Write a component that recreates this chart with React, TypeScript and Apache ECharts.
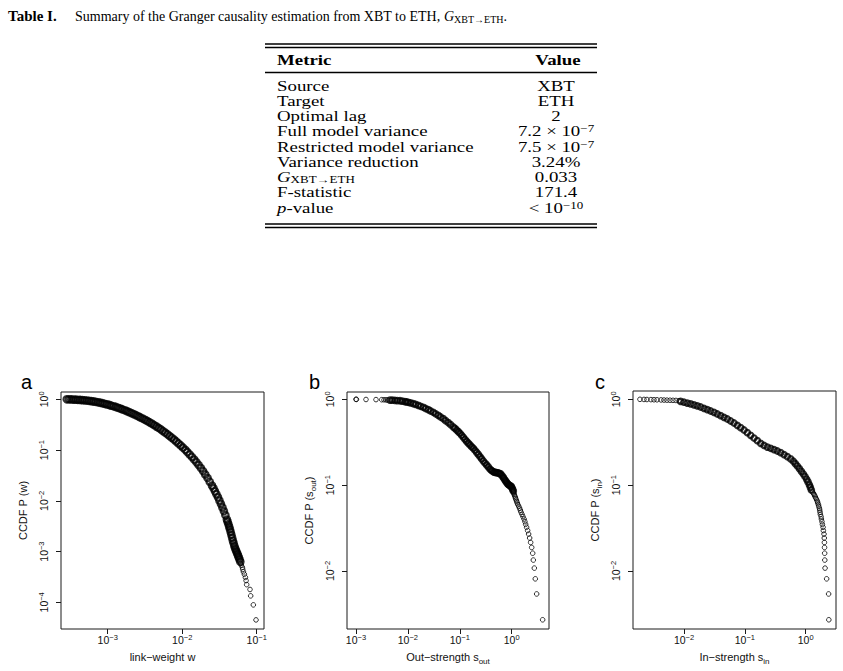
import React, { useEffect, useRef } from "react";
import * as echarts from "echarts";

const SANS = '"Liberation Sans", Arial, Helvetica, sans-serif';
const SERIF = '"Liberation Serif", "Times New Roman", Times, serif';

// ---------- Table I ----------
const captionLead = "Table I.";
const captionText =
  "Summary of the Granger causality estimation from XBT to ETH, {gi|G}{gs|XBT→ETH}.";
const tableHeaders = ["Metric", "Value"];
const metricNames = [
  "Source",
  "Target",
  "Optimal lag",
  "Full model variance",
  "Restricted model variance",
  "Variance reduction",
  "{gi|G}{gs|XBT→ETH}",
  "F-statistic",
  "{it|p}-value",
];
const metricValues = [
  "XBT",
  "ETH",
  "2",
  "7.2 × 10{vs|−7}",
  "7.5 × 10{vs|−7}",
  "3.24%",
  "0.033",
  "171.4",
  "< 10{vs|−10}",
];

// ---------- Panel a: link weights (dense body, then sparse tail) ----------
const linkWeightBody = [
  2.82e-4, 3.02e-4, 3.24e-4, 3.47e-4, 3.72e-4, 3.98e-4, 4.27e-4, 4.57e-4, 4.9e-4, 5.25e-4,
  5.62e-4, 6.03e-4, 6.46e-4, 6.92e-4, 7.41e-4, 7.94e-4, 8.51e-4, 9.12e-4, 9.77e-4, 1.05e-3,
  1.12e-3, 1.2e-3, 1.29e-3, 1.38e-3, 1.48e-3, 1.58e-3, 1.7e-3, 1.82e-3, 1.95e-3, 2.09e-3,
  2.24e-3, 2.4e-3, 2.57e-3, 2.75e-3, 2.95e-3, 3.16e-3, 3.39e-3, 3.63e-3, 3.89e-3, 4.17e-3,
  4.47e-3, 4.79e-3, 5.13e-3, 5.5e-3, 5.89e-3, 6.31e-3, 6.76e-3, 7.24e-3, 7.76e-3, 8.32e-3,
  8.91e-3, 9.55e-3, 1.02e-2, 1.1e-2, 1.17e-2, 1.26e-2, 1.35e-2, 1.45e-2, 1.55e-2, 1.66e-2,
  1.78e-2, 1.91e-2, 2.04e-2, 2.19e-2, 2.34e-2, 2.51e-2, 2.63e-2, 2.75e-2, 2.88e-2, 3.02e-2,
  3.16e-2, 3.31e-2, 3.47e-2, 3.63e-2, 3.8e-2, 3.98e-2, 4.07e-2, 4.17e-2, 4.27e-2, 4.37e-2,
  4.47e-2, 4.57e-2, 4.68e-2, 4.79e-2, 4.9e-2, 5.01e-2, 5.13e-2, 5.25e-2, 5.37e-2, 5.5e-2,
  5.62e-2, 5.75e-2, 5.89e-2, 6.03e-2,
];
const linkWeightBodyCcdf = [
  1.0, 0.998, 0.993, 0.989, 0.984, 0.979, 0.973, 0.964, 0.955, 0.944,
  0.933, 0.92, 0.906, 0.891, 0.873, 0.855, 0.836, 0.815, 0.794, 0.773,
  0.75, 0.728, 0.705, 0.681, 0.656, 0.631, 0.607, 0.582, 0.557, 0.533,
  0.509, 0.485, 0.462, 0.44, 0.417, 0.395, 0.374, 0.353, 0.333, 0.313,
  0.293, 0.274, 0.256, 0.238, 0.221, 0.205, 0.19, 0.175, 0.161, 0.148,
  0.135, 0.123, 0.112, 0.101, 0.0912, 0.0818, 0.0731, 0.065, 0.0575, 0.0506,
  0.0442, 0.0383, 0.033, 0.0281, 0.0238, 0.02, 0.0176, 0.0154, 0.0135, 0.0117,
  0.0101, 0.00867, 0.00738, 0.00622, 0.00519, 0.00427, 0.00385, 0.00345, 0.00308, 0.00274,
  0.00243, 0.00214, 0.00187, 0.00164, 0.00145, 0.00129, 0.00116, 0.00106, 0.000977, 0.000902,
  0.000832, 0.000767, 0.0007, 0.000631,
];
const linkWeightTail = [
  0.061, 0.0622, 0.0642, 0.0649, 0.0663, 0.0683, 0.0705, 0.072, 0.0734, 0.0813, 0.083, 0.0901, 0.0979,
];
const linkWeightTailCcdf = [
  5.8e-4, 5.36e-4, 4.9e-4, 4.46e-4, 4.0e-4, 3.57e-4, 3.1e-4, 2.68e-4, 2.23e-4, 1.79e-4, 1.34e-4, 8.9e-5, 4.5e-5,
];

// ---------- Panel b: out-strength (sparse head, dense body, sparse tail) ----------
const outStrengthHead = [0.001, 0.00102, 0.00156, 0.00243, 0.00313, 0.00347, 0.0038, 0.00408];
const outStrengthHeadCcdf = [1.0, 0.997, 0.995, 0.992, 0.989, 0.987, 0.984, 0.982];
const outStrengthBody = [
  0.00452, 0.00501, 0.00564, 0.00625, 0.00705, 0.00781, 0.00879, 0.00946, 0.01019, 0.0113,
  0.01273, 0.01413, 0.0159, 0.01762, 0.01983, 0.02198, 0.02477, 0.02746, 0.03093, 0.03428,
  0.03859, 0.04278, 0.04815, 0.0534, 0.06013, 0.06668, 0.07502, 0.08085, 0.0871, 0.09378,
  0.101, 0.1087, 0.117, 0.126, 0.1356, 0.146, 0.1572, 0.1693, 0.1823, 0.1963,
  0.2113, 0.2275, 0.245, 0.2637, 0.2839, 0.3058, 0.3293, 0.3545, 0.3818, 0.4051,
  0.4299, 0.4561, 0.484, 0.5135, 0.5449, 0.5782, 0.6135, 0.651, 0.6907, 0.7218,
  0.7543, 0.7882, 0.8237, 0.8607, 0.8995, 0.94, 0.9823, 1.013, 1.044, 1.075,
];
const outStrengthBodyCcdf = [
  0.979, 0.976, 0.972, 0.967, 0.962, 0.952, 0.939, 0.931, 0.923, 0.907,
  0.89, 0.871, 0.851, 0.829, 0.807, 0.781, 0.758, 0.731, 0.706, 0.678,
  0.651, 0.622, 0.595, 0.564, 0.535, 0.507, 0.476, 0.458, 0.439, 0.42,
  0.402, 0.381, 0.361, 0.342, 0.324, 0.308, 0.294, 0.28, 0.269, 0.255,
  0.241, 0.228, 0.215, 0.203, 0.191, 0.181, 0.172, 0.163, 0.154, 0.149,
  0.145, 0.142, 0.141, 0.14, 0.139, 0.137, 0.135, 0.129, 0.123, 0.118,
  0.113, 0.109, 0.105, 0.102, 0.0996, 0.0982, 0.0969, 0.0933, 0.0894, 0.0855,
];
const outStrengthTail = [
  1.08, 1.09, 1.12, 1.14, 1.17, 1.19, 1.22, 1.25, 1.28, 1.32, 1.37, 1.42, 1.47, 1.51, 1.58,
  1.65, 1.73, 1.8, 1.86, 1.94, 2.03, 2.12, 2.22, 2.32, 2.43, 2.54, 2.61, 2.73, 2.85, 3.03, 3.95,
];
const outStrengthTailCcdf = [
  0.0833, 0.0806, 0.078, 0.0753, 0.0726, 0.0699, 0.0672, 0.0645, 0.0618, 0.0591, 0.0565, 0.0538, 0.0511, 0.0484, 0.0457,
  0.043, 0.0403, 0.0376, 0.0349, 0.0323, 0.0296, 0.0269, 0.0242, 0.0215, 0.0188, 0.0161, 0.0134, 0.0108, 0.0081, 0.0054, 0.0027,
];

// ---------- Panel c: in-strength (sparse head, dense body, sparse tail) ----------
const inStrengthHead = [
  0.00189, 0.0022, 0.00246, 0.00286, 0.00321, 0.0036, 0.00419, 0.00469, 0.00525, 0.00589,
  0.00659, 0.00738, 0.00828,
];
const inStrengthHeadCcdf = [
  1.0, 0.997, 0.995, 0.992, 0.989, 0.987, 0.984, 0.981, 0.978, 0.976, 0.973, 0.97, 0.962,
];
const inStrengthBody = [
  0.00881, 0.01, 0.01134, 0.01287, 0.0146, 0.01656, 0.01879, 0.02132, 0.02418, 0.02744,
  0.03113, 0.03531, 0.04006, 0.04545, 0.05157, 0.0585, 0.06637, 0.0753, 0.08543, 0.0969,
  0.1099, 0.1247, 0.1415, 0.1605, 0.1821, 0.2066, 0.2344, 0.2659, 0.3017, 0.3421,
  0.3882, 0.4404, 0.4996, 0.5668, 0.6269, 0.6761, 0.7295, 0.7869, 0.8489, 0.9155,
  0.975, 1.038, 1.092, 1.149, 1.193, 1.239,
];
const inStrengthBodyCcdf = [
  0.945, 0.925, 0.905, 0.885, 0.862, 0.838, 0.814, 0.785, 0.758, 0.731,
  0.706, 0.675, 0.645, 0.617, 0.59, 0.559, 0.53, 0.498, 0.468, 0.439,
  0.409, 0.381, 0.354, 0.33, 0.307, 0.291, 0.278, 0.269, 0.259, 0.25,
  0.239, 0.227, 0.215, 0.202, 0.19, 0.178, 0.167, 0.156, 0.145, 0.135,
  0.126, 0.117, 0.109, 0.101, 0.0944, 0.0879,
];
const inStrengthTail = [
  1.29, 1.34, 1.37, 1.41, 1.44, 1.48, 1.52, 1.56, 1.58, 1.62, 1.64, 1.68,
  1.7, 1.72, 1.74, 1.79, 1.81, 1.85, 1.88, 1.93, 1.95, 2.0, 2.02, 2.03, 2.04, 2.05, 2.06, 2.08, 2.21, 2.38, 2.4,
];
const inStrengthTailCcdf = [
  0.0833, 0.0806, 0.078, 0.0753, 0.0726, 0.0699, 0.0672, 0.0645, 0.0618, 0.0591, 0.0565, 0.0538,
  0.0511, 0.0484, 0.0457, 0.043, 0.0403, 0.0376, 0.0349, 0.0323, 0.0296, 0.0269, 0.0242, 0.0215, 0.0188, 0.0161, 0.0134, 0.0108, 0.0081, 0.0054, 0.0027,
];

// Decade exponents marked on each log axis
const linkWeightXTicks = [-3, -2, -1];
const linkWeightYTicks = [0, -1, -2, -3, -4];
const outStrengthXTicks = [-3, -2, -1, 0];
const inStrengthXTicks = [-2, -1, 0];
const strengthYTicks = [0, -1, -2];

const panelLetters = ["a", "b", "c"];

type Segment = { xs: number[]; ys: number[]; dense: boolean };
type Panel = {
  segments: Segment[];
  xTicks: number[];
  yTicks: number[];
  xRange: [number, number];
  yRange: [number, number];
  box: { left: number; top: number; width: number; height: number };
  xName: string;
  yName: string;
  letterX: number;
  denseSize: number;
};

const panels: Panel[] = [
  {
    segments: [
      { xs: linkWeightBody, ys: linkWeightBodyCcdf, dense: true },
      { xs: linkWeightTail, ys: linkWeightTailCcdf, dense: false },
    ],
    xTicks: linkWeightXTicks,
    yTicks: linkWeightYTicks,
    xRange: [-3.627, -0.902],
    yRange: [-4.526, 0.144],
    box: { left: 61, top: 392, width: 203, height: 237 },
    xName: "{n|link−weight w}",
    yName: "{n|CCDF P (w)}",
    letterX: 21,
    denseSize: 6.5,
  },
  {
    segments: [
      { xs: outStrengthHead, ys: outStrengthHeadCcdf, dense: false },
      { xs: outStrengthBody, ys: outStrengthBodyCcdf, dense: true },
      { xs: outStrengthTail, ys: outStrengthTailCcdf, dense: false },
    ],
    xTicks: outStrengthXTicks,
    yTicks: strengthYTicks,
    xRange: [-3.173, 0.719],
    yRange: [-2.676, 0.085],
    box: { left: 347, top: 392, width: 202, height: 237 },
    xName: "{n|Out−strength s}{sb|out}",
    yName: "{n|CCDF P (s}{sb|out}{n|)}",
    letterX: 309,
    denseSize: 5.5,
  },
  {
    segments: [
      { xs: inStrengthHead, ys: inStrengthHeadCcdf, dense: false },
      { xs: inStrengthBody, ys: inStrengthBodyCcdf, dense: true },
      { xs: inStrengthTail, ys: inStrengthTailCcdf, dense: false },
    ],
    xTicks: inStrengthXTicks,
    yTicks: strengthYTicks,
    xRange: [-2.838, 0.498],
    yRange: [-2.676, 0.097],
    box: { left: 633, top: 391, width: 203, height: 238 },
    xName: "{n|In−strength s}{sb|in}",
    yName: "{n|CCDF P (s}{sb|in}{n|)}",
    letterX: 595,
    denseSize: 5.5,
  },
];

const INK = "#111";

const decadeLabel = (exp: number) =>
  `{b|10}{s|${exp === 0 ? "0" : "−" + Math.abs(Math.round(exp))}}`;

const tickRich = {
  b: { fontSize: 10.5, lineHeight: 14, fontFamily: SANS, color: INK },
  s: { fontSize: 7.5, lineHeight: 8, verticalAlign: "top", fontFamily: SANS, color: INK },
};

const nameRich = {
  n: { fontSize: 11, lineHeight: 16, fontFamily: SANS, color: INK },
  sb: { fontSize: 8, lineHeight: 9, verticalAlign: "bottom", fontFamily: SANS, color: INK },
};

// Table type: tight rows, wide-set face
const TABLE_FONT = 14.5;
const TABLE_STRETCH = 1.3;
const ROW_LINE = 15;
const tableRich = {
  gi: { fontStyle: "italic", fontSize: TABLE_FONT, lineHeight: ROW_LINE, fontFamily: SERIF, color: "#000" },
  gs: { fontSize: 10, lineHeight: 8, verticalAlign: "bottom", fontFamily: SERIF, color: "#000" },
  it: { fontStyle: "italic", fontSize: TABLE_FONT, lineHeight: ROW_LINE, fontFamily: SERIF, color: "#000" },
  vs: { fontSize: 10, lineHeight: 8, verticalAlign: "top", fontFamily: SERIF, color: "#000" },
};

const CAPTION_FONT = 14;
const captionRich = {
  gi: { fontStyle: "italic", fontSize: CAPTION_FONT, lineHeight: 17, fontFamily: SERIF, color: "#000" },
  gs: { fontSize: 10, lineHeight: 9, verticalAlign: "bottom", fontFamily: SERIF, color: "#000" },
};

function textEl(
  x: number,
  y: number,
  text: string,
  opts: {
    size: number;
    weight?: string;
    align?: string;
    family?: string;
    rich?: any;
    lineHeight?: number;
    stretch?: number;
  }
) {
  const align = opts.align || "left";
  return {
    type: "text",
    x,
    y,
    scaleX: opts.stretch || 1,
    silent: true,
    style: {
      text,
      fill: "#000",
      fontSize: opts.size,
      fontFamily: opts.family || SERIF,
      fontWeight: opts.weight || "normal",
      lineHeight: opts.lineHeight || Math.round(opts.size * 1.2),
      align,
      textAlign: align,
      verticalAlign: "middle",
      textVerticalAlign: "middle",
      rich: opts.rich,
    },
  };
}

const RULE_LEFT = 265;
const RULE_RIGHT = 597;

function ruleEl(y: number, width: number) {
  return {
    type: "line",
    silent: true,
    shape: { x1: RULE_LEFT, y1: y, x2: RULE_RIGHT, y2: y },
    style: { stroke: "#000", lineWidth: width },
  };
}

function buildOption() {
  const rowTop = 86;
  const rowStep = 15.25;
  const metricX = 277;
  const valueX = 556;
  const cell = { size: TABLE_FONT, rich: tableRich, lineHeight: ROW_LINE, stretch: TABLE_STRETCH };
  const graphics: any[] = [
    textEl(8, 16, captionLead, { size: 15, weight: "bold" }),
    textEl(75, 16, captionText, { size: CAPTION_FONT, rich: captionRich, lineHeight: 17 }),
    ruleEl(44, 1.3),
    ruleEl(47.5, 1.3),
    textEl(metricX, 60, tableHeaders[0], { ...cell, weight: "bold" }),
    textEl(558, 60, tableHeaders[1], { ...cell, weight: "bold", align: "center" }),
    ruleEl(72.5, 1.6),
    ...metricNames.map((m, i) => textEl(metricX, rowTop + i * rowStep, m, cell)),
    ...metricValues.map((v, i) =>
      textEl(valueX, rowTop + i * rowStep, v, { ...cell, align: "center" })
    ),
    ruleEl(224, 1.3),
    ruleEl(227.5, 1.3),
    ...panels.map((p, i) => textEl(p.letterX, 382, panelLetters[i], { size: 20, family: SANS })),
  ];

  return {
    animation: false,
    backgroundColor: "#fff",
    grid: panels.map((p) => ({
      ...p.box,
      show: true,
      borderColor: "#1a1a1a",
      borderWidth: 1,
      backgroundColor: "transparent",
      containLabel: false,
      outerBoundsMode: "none",
    })),
    xAxis: panels.map((p, i) => ({
      type: "value",
      gridIndex: i,
      min: p.xRange[0],
      max: p.xRange[1],
      axisLine: { show: false, onZero: false },
      splitLine: { show: false },
      axisTick: {
        show: true,
        customValues: p.xTicks,
        length: 5,
        lineStyle: { color: "#1a1a1a", width: 1 },
      },
      axisLabel: {
        customValues: p.xTicks,
        formatter: (v: number) => decadeLabel(v),
        rich: tickRich,
        margin: 4,
      },
      name: p.xName,
      nameLocation: "middle",
      nameGap: 20,
      nameTextStyle: { fontFamily: SANS, fontSize: 11, color: INK, rich: nameRich },
    })),
    yAxis: panels.map((p, i) => ({
      type: "value",
      gridIndex: i,
      min: p.yRange[0],
      max: p.yRange[1],
      axisLine: { show: false, onZero: false },
      splitLine: { show: false },
      axisTick: {
        show: true,
        customValues: p.yTicks,
        length: 5,
        lineStyle: { color: "#1a1a1a", width: 1 },
      },
      axisLabel: {
        customValues: p.yTicks,
        formatter: (v: number) => decadeLabel(v),
        rich: tickRich,
        rotate: 90,
        margin: 10,
      },
      name: p.yName,
      nameLocation: "middle",
      nameGap: 30,
      nameTextStyle: { fontFamily: SANS, fontSize: 11, color: INK, rich: nameRich },
    })),
    series: panels.map((p, i) => ({
      type: "scatter",
      xAxisIndex: i,
      yAxisIndex: i,
      data: p.segments.flatMap((seg) =>
        seg.xs.map((x, j) => ({
          value: [Math.log10(x), Math.log10(seg.ys[j])],
          symbolSize: seg.dense ? p.denseSize : 4.6,
          itemStyle: {
            color: "rgba(0,0,0,0)",
            borderColor: "#000",
            borderWidth: seg.dense ? 2.2 : 1,
          },
        }))
      ),
      symbol: "circle",
      silent: true,
      emphasis: { disabled: true },
    })),
    graphic: { elements: graphics },
  };
}

export default function App() {
  const ref = useRef<HTMLDivElement>(null);
  useEffect(() => {
    document.body.style.margin = "0";
    const chart = echarts.init(ref.current!, null, { renderer: "svg" });
    chart.setOption(buildOption() as any);
    return () => chart.dispose();
  }, []);
  return <div ref={ref} style={{ width: 843, height: 671, background: "#fff" }} />;
}
